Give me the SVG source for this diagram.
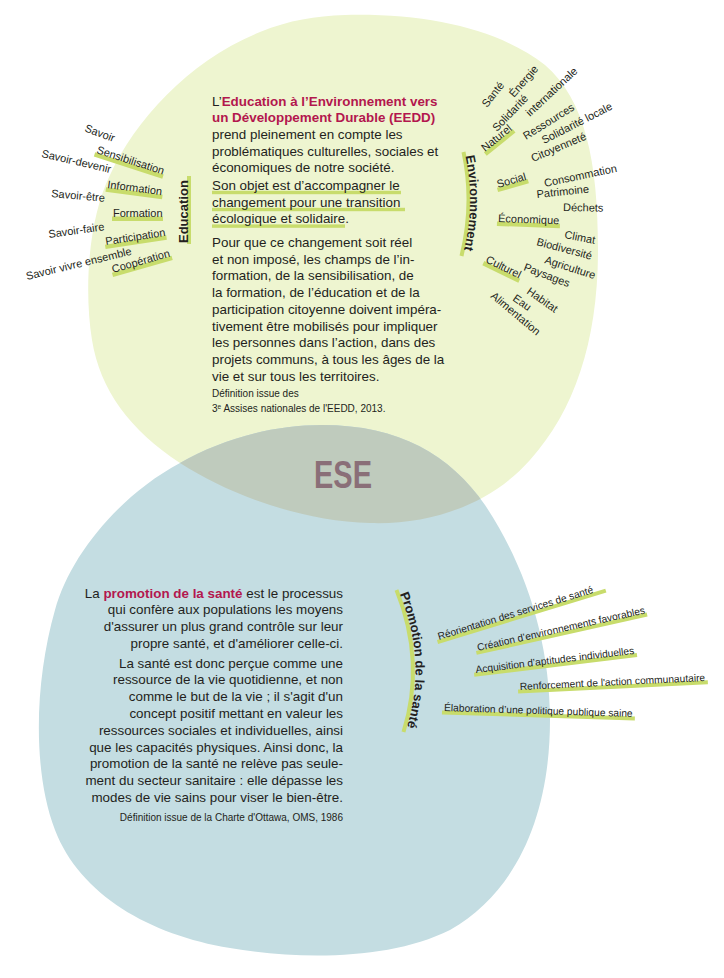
<svg xmlns="http://www.w3.org/2000/svg" width="724" height="978" viewBox="0 0 724 978">
<style>
.t{font-family:"Liberation Sans",Arial,Helvetica,sans-serif;fill:#231f20}
.b{font-size:13.4px}
.lab{font-size:11px}
.pl{font-size:10.2px}
.def{font-size:10px}
.red{fill:#b3174e;font-weight:bold}
.bar{fill:#c8dc6c}
.barl{fill:none;stroke:#c8dc6c;stroke-width:4}
.bold{font-weight:bold;font-size:13px}
</style>
<defs>
<path id="gBlob" d="M 345,15 C 430,13 500,30 545,65 C 585,100 598,160 598,250 C 598,340 575,410 530,460 C 490,505 430,525 370,523 C 300,521 230,495 180,463 C 130,430 100,390 92,340 C 84,290 88,220 110,175 C 135,120 190,60 260,32 C 290,20 315,16 345,15 Z"/>
<path id="bBlob" d="M 322,425 C 400,425 450,455 485,505 C 525,565 550,640 550,720 C 550,810 520,890 450,930 C 390,960 300,960 230,948 C 150,935 80,895 55,830 C 32,770 35,680 55,610 C 70,555 120,495 180,463 C 220,440 270,425 322,425 Z"/>
<clipPath id="gClip"><use href="#gBlob"/></clipPath>
<path id="pEnv" d="M 465,154 Q 476,203 463,254" fill="none"/>
<path id="pPromo" d="M 399,592 Q 428,662 406,730" fill="none"/>
</defs>

<g id="blobs">
<use href="#gBlob" fill="#eef5d0"/>
<use href="#bBlob" fill="#c4dde2"/>
<use href="#bBlob" fill="#bfcbbd" clip-path="url(#gClip)"/>
</g>

<g id="eedd-text">
<rect class="bar" x="212" y="190.8" width="189" height="3.4"/>
<rect class="bar" x="212" y="207.8" width="193" height="3.4"/>
<rect class="bar" x="212" y="224.4" width="133" height="3.4"/>
<text class="t b" x="212" y="105.6">L’<tspan class="red">Education à l’Environnement vers</tspan></text>
<text class="t b red" x="212" y="122.3">un Développement Durable (EEDD)</text>
<text class="t b" x="212" y="139">prend pleinement en compte les</text>
<text class="t b" x="212" y="155.7">problématiques culturelles, sociales et</text>
<text class="t b" x="212" y="172.4">économiques de notre société.</text>
<text class="t b" x="212" y="190">Son objet est d’accompagner le</text>
<text class="t b" x="212" y="206.7">changement pour une transition</text>
<text class="t b" x="212" y="223.4">écologique et solidaire.</text>
<text class="t b" x="212" y="247">Pour que ce changement soit réel</text>
<text class="t b" x="212" y="263.7">et non imposé, les champs de l’in-</text>
<text class="t b" x="212" y="280.4">formation, de la sensibilisation, de</text>
<text class="t b" x="212" y="297.1">la formation, de l’éducation et de la</text>
<text class="t b" x="212" y="313.8">participation citoyenne doivent impéra-</text>
<text class="t b" x="212" y="330.5">tivement être mobilisés pour impliquer</text>
<text class="t b" x="212" y="347.2">les personnes dans l’action, dans des</text>
<text class="t b" x="212" y="363.9">projets communs, à tous les âges de la</text>
<text class="t b" x="212" y="380.6">vie et sur tous les territoires.</text>
<text class="t def" x="212" y="397">Définition issue des</text>
<text class="t def" x="212" y="412">3<tspan font-size="6.5" dy="-3.5">e</tspan><tspan dy="3.5"> Assises nationales de l'EEDD, 2013.</tspan></text>
</g>

<g id="education">
<rect class="bar" x="187" y="176" width="4" height="68"/>
<text class="t bold" transform="translate(188,243) rotate(-90)">Education</text>
</g>
<g id="edu-labels">
<g id="l-savoir" transform="translate(84,131) rotate(21)"><text class="t lab">Savoir</text></g>
<g id="l-sensib" transform="translate(96,153) rotate(18)"><rect class="bar" x="-1" y="-0.5" width="72" height="4.5"/><text class="t lab">Sensibilisation</text></g>
<g id="l-savdev" transform="translate(41,157) rotate(13)"><text class="t lab">Savoir-devenir</text></g>
<g id="l-info" transform="translate(107,188) rotate(7.5)"><rect class="bar" x="-1" y="-0.5" width="57" height="4.5"/><text class="t lab">Information</text></g>
<g id="l-savetre" transform="translate(51,197) rotate(5)"><text class="t lab">Savoir-être</text></g>
<g id="l-form" transform="translate(113,217) rotate(0)"><rect class="bar" x="-1" y="-0.5" width="51" height="4.5"/><text class="t lab">Formation</text></g>
<g id="l-savfaire" transform="translate(49,238) rotate(-8)"><text class="t lab">Savoir-faire</text></g>
<g id="l-partic" transform="translate(106,245) rotate(-8.7)"><rect class="bar" x="-1" y="-0.5" width="62" height="4.5"/><text class="t lab">Participation</text></g>
<g id="l-savviv" transform="translate(27,280) rotate(-13.6)"><text class="t lab">Savoir vivre ensemble</text></g>
<g id="l-coop" transform="translate(113,273) rotate(-16)"><rect class="bar" x="-1" y="-0.5" width="62" height="4.5"/><text class="t lab">Coopération</text></g>
</g>

<g id="environnement">
<path class="barl" d="M 463.5,152 Q 474.5,203 461.5,256"/>
<text class="t bold"><textPath href="#pEnv" startOffset="2">Environnement</textPath></text>
</g>
<g id="env-labels">
<g id="e-sante" transform="translate(487,108) rotate(-52)"><text class="t lab">Santé</text></g>
<g id="e-energie" transform="translate(514,98) rotate(-49)"><text class="t lab">Énergie</text></g>
<g id="e-solid" transform="translate(497,132) rotate(-46)"><text class="t lab">Solidarité</text></g>
<g id="e-intern" transform="translate(530,117) rotate(-43)"><text class="t lab">internationale</text></g>
<g id="e-naturel" transform="translate(485,152) rotate(-39)"><rect class="bar" x="-1" y="-0.5" width="37" height="4.5"/><text class="t lab">Naturel</text></g>
<g id="e-ress" transform="translate(526,140) rotate(-32)"><text class="t lab">Ressources</text></g>
<g id="e-solloc" transform="translate(544,144) rotate(-27)"><text class="t lab">Solidarité locale</text></g>
<g id="e-citoy" transform="translate(533,162) rotate(-23)"><text class="t lab">Citoyenneté</text></g>
<g id="e-social" transform="translate(498,188) rotate(-16)"><rect class="bar" x="-1" y="-0.5" width="32" height="4.5"/><text class="t lab">Social</text></g>
<g id="e-conso" transform="translate(545,187) rotate(-12)"><text class="t lab">Consommation</text></g>
<g id="e-patri" transform="translate(537,198) rotate(-6)"><text class="t lab">Patrimoine</text></g>
<g id="e-dechets" transform="translate(563,211) rotate(1)"><text class="t lab">Déchets</text></g>
<g id="e-eco" transform="translate(498,222) rotate(2)"><rect class="bar" x="-1" y="-0.5" width="63" height="4.5"/><text class="t lab">Économique</text></g>
<g id="e-climat" transform="translate(564,238) rotate(11)"><text class="t lab">Climat</text></g>
<g id="e-biodiv" transform="translate(536,245) rotate(15)"><text class="t lab">Biodiversité</text></g>
<g id="e-agri" transform="translate(544,263) rotate(18)"><text class="t lab">Agriculture</text></g>
<g id="e-cult" transform="translate(485,262) rotate(26)"><rect class="bar" x="-1" y="-0.5" width="40" height="4.5"/><text class="t lab">Culturel</text></g>
<g id="e-pays" transform="translate(523,270) rotate(21)"><text class="t lab">Paysages</text></g>
<g id="e-habitat" transform="translate(526,293) rotate(35)"><text class="t lab">Habitat</text></g>
<g id="e-eau" transform="translate(512,300) rotate(35)"><text class="t lab">Eau</text></g>
<g id="e-alim" transform="translate(490,297) rotate(40)"><text class="t lab">Alimentation</text></g>
</g>

<g id="ese">
<text x="343" y="488" text-anchor="middle" font-family="'Liberation Sans',Arial,sans-serif" font-weight="bold" font-size="39" fill="#8a6f78" textLength="58" lengthAdjust="spacingAndGlyphs">ESE</text>
</g>

<g id="sante-text">
<text class="t b" x="343" y="597.5" text-anchor="end">La <tspan class="red">promotion de la santé</tspan> est le processus</text>
<text class="t b" x="343" y="614.2" text-anchor="end">qui confère aux populations les moyens</text>
<text class="t b" x="343" y="630.9" text-anchor="end">d'assurer un plus grand contrôle sur leur</text>
<text class="t b" x="343" y="647.6" text-anchor="end">propre santé, et d'améliorer celle-ci.</text>
<text class="t b" x="343" y="667.5" text-anchor="end">La santé est donc perçue comme une</text>
<text class="t b" x="343" y="684.2" text-anchor="end">ressource de la vie quotidienne, et non</text>
<text class="t b" x="343" y="701" text-anchor="end">comme le but de la vie ; il s'agit d'un</text>
<text class="t b" x="343" y="718" text-anchor="end">concept positif mettant en valeur les</text>
<text class="t b" x="343" y="734.8" text-anchor="end">ressources sociales et individuelles, ainsi</text>
<text class="t b" x="343" y="751.5" text-anchor="end">que les capacités physiques. Ainsi donc, la</text>
<text class="t b" x="343" y="768.2" text-anchor="end">promotion de la santé ne relève pas seule-</text>
<text class="t b" x="343" y="785" text-anchor="end">ment du secteur sanitaire : elle dépasse les</text>
<text class="t b" x="343" y="801.7" text-anchor="end">modes de vie sains pour viser le bien-être.</text>
<text class="t def" x="343" y="820.5" text-anchor="end">Définition issue de la Charte d'Ottawa, OMS, 1986</text>
</g>

<g id="promotion">
<path class="barl" d="M 396.5,590 Q 425.5,662 403.5,732"/>
<text class="t bold"><textPath href="#pPromo" startOffset="2">Promotion de la santé</textPath></text>
</g>
<g id="promo-labels">
<g id="p-reor" transform="translate(439,640) rotate(-17)"><rect class="bar" x="-2" y="-0.5" width="176" height="4"/><text class="t pl">Réorientation des services de santé</text></g>
<g id="p-crea" transform="translate(478,651) rotate(-12.7)"><rect class="bar" x="-2" y="-0.5" width="175" height="4"/><text class="t pl">Création d’environnements favorables</text></g>
<g id="p-acq" transform="translate(476,673) rotate(-6.9)"><rect class="bar" x="-2" y="-0.5" width="164" height="4"/><text class="t pl">Acquisition d’aptitudes individuelles</text></g>
<g id="p-renf" transform="translate(520,690) rotate(-2.8)"><rect class="bar" x="-2" y="-0.5" width="190" height="4"/><text class="t pl">Renforcement de l'action communautaire</text></g>
<g id="p-elab" transform="translate(444,711) rotate(1.8)"><rect class="bar" x="-2" y="-0.5" width="193" height="4"/><text class="t pl">Élaboration d’une politique publique saine</text></g>
</g>
</svg>
